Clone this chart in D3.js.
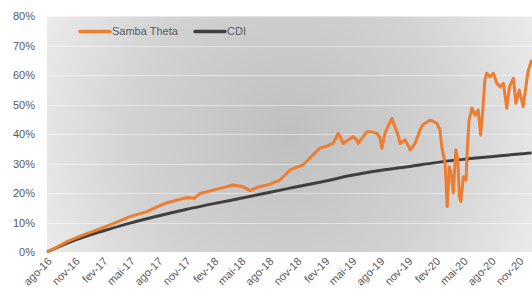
<!DOCTYPE html>
<html><head><meta charset="utf-8">
<script src="https://cdn.jsdelivr.net/npm/d3@7"></script>
<style>
body{margin:0;background:#fff}
svg{display:block}
text{font-family:"Liberation Sans",Arial,sans-serif;fill:#595959}
</style>
</head><body>
<svg id="c" width="532" height="302"></svg>
<script>
const seriesNames = ["Samba Theta", "CDI"];
const sambaDates = ["2016-08-01","2016-09-03","2016-10-06","2016-11-18","2017-01-13","2017-03-09","2017-05-01","2017-06-26","2017-07-29","2017-08-31","2017-10-03","2017-11-05","2017-11-28","2017-12-18","2018-01-13","2018-02-11","2018-03-10","2018-04-05","2018-05-08","2018-05-21","2018-05-31","2018-06-26","2018-07-26","2018-08-21","2018-09-07","2018-10-10","2018-11-02","2018-11-21","2018-12-08","2018-12-24","2019-01-16","2019-02-08","2019-02-28","2019-03-10","2019-03-17","2019-03-23","2019-04-02","2019-04-19","2019-05-05","2019-05-18","2019-05-22","2019-06-04","2019-06-20","2019-06-30","2019-07-23","2019-08-02","2019-08-08","2019-08-18","2019-09-04","2019-09-10","2019-09-20","2019-09-30","2019-10-07","2019-10-23","2019-11-02","2019-11-09","2019-11-25","2019-12-12","2019-12-21","2020-01-13","2020-01-27","2020-02-05","2020-02-15","2020-02-21","2020-03-03","2020-03-10","2020-03-17","2020-03-25","2020-03-30","2020-04-07","2020-04-14","2020-04-19","2020-04-24","2020-05-02","2020-05-11","2020-05-15","2020-05-21","2020-05-30","2020-06-10","2020-06-20","2020-06-28","2020-07-05","2020-07-12","2020-07-18","2020-07-29","2020-08-09","2020-08-20","2020-08-31","2020-09-11","2020-09-22","2020-10-01","2020-10-14","2020-10-22","2020-11-02","2020-11-15","2020-11-27","2020-12-02","2020-12-13"];
const sambaValues = [0,1.7,3.5,5.4,7.5,9.7,12.0,13.7,15.3,16.7,17.6,18.5,18.2,19.9,20.5,21.3,22.0,22.7,22.1,21.4,20.8,22.0,22.7,23.7,24.4,27.8,28.8,29.5,31.2,32.9,35.2,35.9,36.8,38.6,40.2,39.3,36.8,38.0,39.1,38.0,36.8,38.6,40.8,40.8,40.2,38.6,35.2,40.2,44.1,45.3,42.5,39.7,36.8,38.0,36.3,34.6,36.8,41.4,43.1,44.7,44.1,43.6,41.4,35.7,30.2,15.4,28.9,25.5,20.0,34.6,31.2,18.7,17.1,25.5,24.4,34.6,44.7,48.8,46.4,48.1,39.7,48.1,58.3,60.6,59.4,60.6,57.2,56.0,57.2,48.7,56.0,58.9,50.4,54.9,49.3,58.3,61.7,65.1];
const cdiDates = ["2016-08-01","2016-11-01","2017-02-01","2017-05-01","2017-08-01","2017-11-01","2018-02-01","2018-05-01","2018-08-01","2018-11-01","2019-02-01","2019-05-01","2019-08-01","2019-11-01","2020-02-01","2020-05-01","2020-08-01","2020-11-01","2020-12-13"];
const cdiValues = [0,4.0,7.1,9.8,12.2,14.4,16.4,18.2,20.2,22.1,24.0,26.0,27.6,28.9,30.3,31.4,32.3,33.2,33.6];
const yTicks = [0,10,20,30,40,50,60,70,80];
const xTickDates = ["2016-08-01","2016-11-01","2017-02-01","2017-05-01","2017-08-01","2017-11-01","2018-02-01","2018-05-01","2018-08-01","2018-11-01","2019-02-01","2019-05-01","2019-08-01","2019-11-01","2020-02-01","2020-05-01","2020-08-01","2020-11-01"];
const xTickLabels = ["ago-16","nov-16","fev-17","mai-17","ago-17","nov-17","fev-18","mai-18","ago-18","nov-18","fev-19","mai-19","ago-19","nov-19","fev-20","mai-20","ago-20","nov-20"];

const parse = d3.utcParse("%Y-%m-%d");
const W = 532, H = 302;
const m = {l:47, r:0, t:16, b:50};
const svg = d3.select("#c");
const x = d3.scaleUtc().domain([parse("2016-08-01"), parse("2020-12-14")]).range([m.l, W - m.r]);
const y = d3.scaleLinear().domain([0, 80]).range([H - m.b, m.t]);

const defs = svg.append("defs");
const grad = defs.append("radialGradient").attr("id","bg").attr("gradientUnits","userSpaceOnUse")
  .attr("cx", 290).attr("cy", 135).attr("r", 290);
grad.append("stop").attr("offset", 0).attr("stop-color", "#bfbfbf");
grad.append("stop").attr("offset", 0.55).attr("stop-color", "#d2d2d2");
grad.append("stop").attr("offset", 1).attr("stop-color", "#efefef");

svg.append("rect").attr("x", m.l).attr("y", m.t).attr("width", W - m.r - m.l).attr("height", H - m.b - m.t)
  .attr("fill", "url(#bg)");

// gridlines
svg.append("g").selectAll("line").data(yTicks).join("line")
  .attr("x1", m.l).attr("x2", W - m.r)
  .attr("y1", d => Math.round(y(d)) + 0.5).attr("y2", d => Math.round(y(d)) + 0.5)
  .attr("stroke", "#ffffff").attr("stroke-opacity", 0.45).attr("stroke-width", 1.2);

// y axis labels
const yAxis = d3.axisLeft(y).tickValues(yTicks).tickFormat(d => d + "%").tickSize(0).tickPadding(12);
const gy = svg.append("g").attr("transform", `translate(${m.l},0)`).call(yAxis);
gy.select(".domain").remove();
gy.selectAll("text").attr("font-size", 11).attr("fill", "#595959").style("font-family", '"Liberation Sans",Arial,sans-serif');

// x axis labels
const xAxis = d3.axisBottom(x).tickValues(xTickDates.map(parse)).tickFormat((d, i) => xTickLabels[i]).tickSize(0);
const gx = svg.append("g").attr("transform", `translate(0,${H - m.b})`).call(xAxis);
gx.select(".domain").remove();
gx.selectAll("text").attr("font-size", 11).attr("fill", "#595959")
  .style("font-family", '"Liberation Sans",Arial,sans-serif')
  .attr("text-anchor", "end").attr("dy", null).attr("y", 0)
  .attr("transform", "translate(5,10) rotate(-45)");

const line = d3.line().x(d => x(d[0])).y(d => y(d[1]));
const cdi = cdiDates.map((d, i) => [parse(d), cdiValues[i]]);
const samba = sambaDates.map((d, i) => [parse(d), sambaValues[i]]);

svg.append("path").datum(cdi).attr("d", line.curve(d3.curveMonotoneX))
  .attr("fill", "none").attr("stroke", "#404040").attr("stroke-width", 3);
svg.append("path").datum(samba).attr("d", line.curve(d3.curveLinear))
  .attr("fill", "none").attr("stroke", "#ED7D31").attr("stroke-width", 3).attr("stroke-linejoin", "round");

// legend
const legend = [{name: seriesNames[0], color: "#ED7D31", x: 80}, {name: seriesNames[1], color: "#404040", x: 195}];
const lg = svg.append("g").selectAll("g").data(legend).join("g").attr("transform", d => `translate(${d.x},31.5)`);
lg.append("line").attr("x1", 0).attr("x2", 30).attr("stroke", d => d.color).attr("stroke-width", 3.5).attr("stroke-linecap","round");
lg.append("text").attr("x", 32).attr("dy", "0.35em").attr("font-size", 11).text(d => d.name);
</script>
</body></html>
